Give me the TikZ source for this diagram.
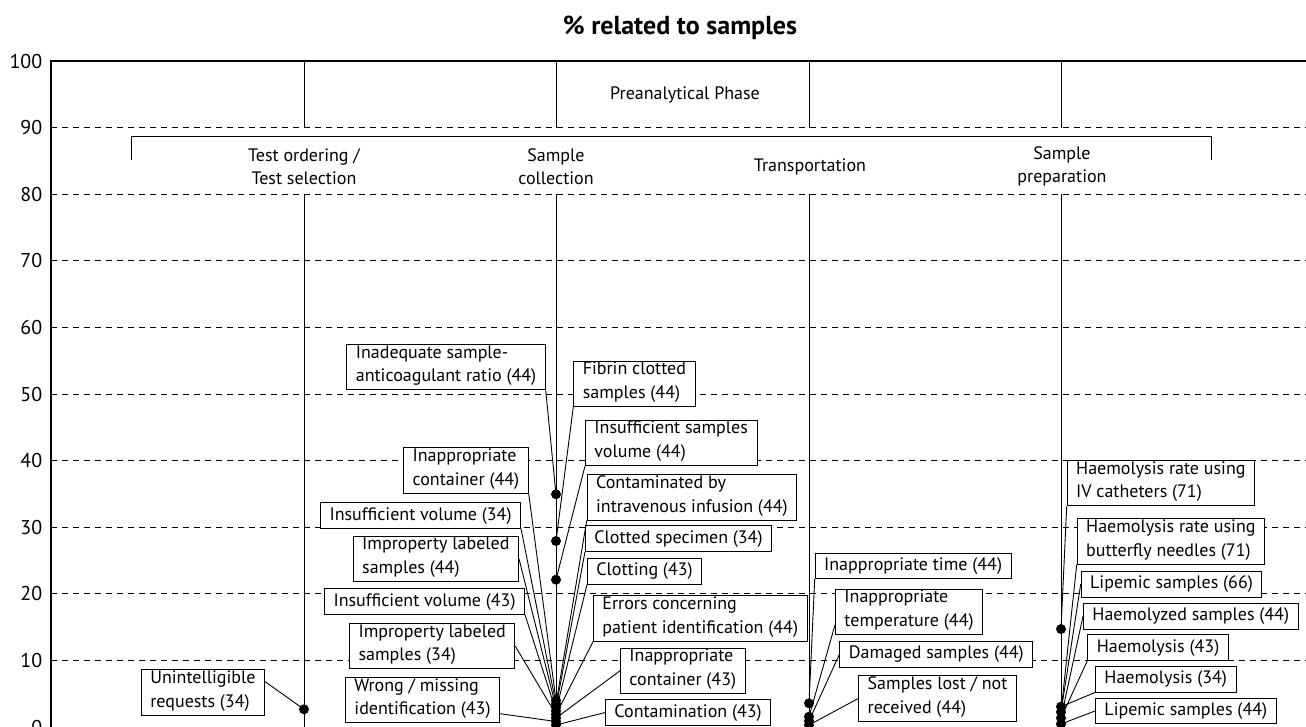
\documentclass[tikz,border=0pt]{standalone}
\usepackage{fontspec}
\setmainfont{PT Sans}
\begin{document}
\begin{tikzpicture}[x=1pt,y=-1pt,line width=0.9pt]
\tikzstyle{lbl}=[draw,fill=white,align=left,inner xsep=9pt,inner ysep=1.1pt,font=\fontsize{18}{23.4}\selectfont,execute at begin node=\strut,execute at end node=\strut]
\tikzstyle{blob}=[circle,fill=black,inner sep=0pt,minimum size=10pt]
\tikzstyle{ylab}=[anchor=east,font=\fontsize{20}{24}\selectfont]
\tikzstyle{phase}=[align=center,font=\fontsize{18}{23}\selectfont]
\tikzstyle{gridline}=[dash pattern=on 6pt off 5pt]

\useasboundingbox (0,0) rectangle (1306,726);

\node[font=\fontsize{26}{30}\selectfont\bfseries](title) at (680,28) {\% related to samples};

% axis
\node[ylab](y100) at (46,61) {100};
\node[ylab](y90) at (46,127.6) {90};
\node[ylab](y80) at (46,194.2) {80};
\node[ylab](y70) at (46,260.8) {70};
\node[ylab](y60) at (46,327.4) {60};
\node[ylab](y50) at (46,394) {50};
\node[ylab](y40) at (46,460.6) {40};
\node[ylab](y30) at (46,527.2) {30};
\node[ylab](y20) at (46,593.8) {20};
\node[ylab](y10) at (46,660.4) {10};
\node[ylab](y0) at (46,727) {0};
\draw[line width=1.3pt] (51,727) -- (51,61) -- (1306,61);
\draw (51,727) -- (1306,727);
\draw[gridline] (51,127.6) -- (1306,127.6);
\draw[gridline] (51,194.2) -- (1306,194.2);
\draw[gridline] (51,260.8) -- (1306,260.8);
\draw[gridline] (51,327.4) -- (1306,327.4);
\draw[gridline] (51,394) -- (1306,394);
\draw[gridline] (51,460.6) -- (1306,460.6);
\draw[gridline] (51,527.2) -- (1306,527.2);
\draw[gridline] (51,593.8) -- (1306,593.8);
\draw[gridline] (51,660.4) -- (1306,660.4);

% phases
\draw (304,61) -- (304,127.6);
\draw (556,61) -- (556,127.6);
\draw (809,61) -- (809,127.6);
\draw (1061,61) -- (1061,127.6);
\draw (304,194.2) -- (304,727);
\draw (556,194.2) -- (556,727);
\draw (809,194.2) -- (809,727);
\draw (1061,194.2) -- (1061,727);
\draw (131,160) -- (131,136) -- (1211,136) -- (1211,160);
\node[phase](ph) at (685,95) {Preanalytical Phase};
\node[phase](s1) at (304,166.5) {Test ordering /\\Test selection};
\node[phase](s2) at (556,166.5) {Sample\\collection};
\node[phase](s3) at (810,166.5) {Transportation};
\node[phase](s4) at (1062,166.5) {Sample\\preparation};

% boxes
\node[lbl,anchor=east](o1) at (265,692.5) {Unintelligible\\requests (34)};

\node[lbl,anchor=east](c1) at (545.7,367.2) {Inadequate sample-\\anticoagulant ratio (44)};
\node[lbl,anchor=east](c2) at (528.7,470.5) {Inappropriate\\container (44)};
\node[lbl,anchor=east](c3) at (521,515.4) {Insufficient volume (34)};
\node[lbl,anchor=east](c4) at (519,558.7) {Improperty labeled\\samples (44)};
\node[lbl,anchor=east](c5) at (525,601.5) {Insufficient volume (43)};
\node[lbl,anchor=east](c6) at (515.3,646.2) {Improperty labeled\\samples (34)};
\node[lbl,anchor=east](c7) at (500,700) {Wrong / missing\\identification (43)};
\node[lbl,anchor=west](c8) at (573.3,383.8) {Fibrin clotted\\samples (44)};
\node[lbl,anchor=west](c9) at (585,442.8) {Insufficient samples\\volume (44)};
\node[lbl,anchor=west](c10) at (586.7,497.5) {Contaminated by\\intravenous infusion (44)};
\node[lbl,anchor=west](c11) at (585,538.5) {Clotted specimen (34)};
\node[lbl,anchor=west](c12) at (587,571.3) {Clotting (43)};
\node[lbl,anchor=west](c13) at (593,618.5) {Errors concerning\\patient identification (44)};
\node[lbl,anchor=west](c14) at (620,670.8) {Inappropriate\\container (43)};
\node[lbl,anchor=west](c15) at (605,712.5) {Contamination (43)};

\node[lbl,anchor=west](t1) at (814.7,565.8) {Inappropriate time (44)};
\node[lbl,anchor=west](t2) at (835,611.8) {Inappropriate\\temperature (44)};
\node[lbl,anchor=west](t3) at (839.4,654.2) {Damaged samples (44)};
\node[lbl,anchor=west](t4) at (858.2,698.5) {Samples lost / not\\received (44)};

\node[lbl,anchor=west](p1) at (1066.7,483.2) {Haemolysis rate using\\IV catheters (71)};
\node[lbl,anchor=west](p2) at (1076.7,541.5) {Haemolysis rate using\\butterfly needles (71)};
\node[lbl,anchor=west](p3) at (1080.7,584.2) {Lipemic samples (66)};
\node[lbl,anchor=west](p4) at (1083,616.2) {Haemolyzed samples (44)};
\node[lbl,anchor=west](p5) at (1087.3,647.5) {Haemolysis (43)};
\node[lbl,anchor=west](p6) at (1095,679.2) {Haemolysis (34)};
\node[lbl,anchor=west](p7) at (1095,711) {Lipemic samples (44)};

% dots
\node[blob](do1) at (304,709.3) {};
\node[blob](dc1) at (556,494.3) {};
\node[blob](dc2) at (556,541) {};
\node[blob](dc3) at (556,579.7) {};
\node[blob](dc4) at (556,700.5) {};
\node[blob](dc5) at (556,704) {};
\node[blob](dc6) at (556,707.5) {};
\node[blob](dc7) at (556,711) {};
\node[blob](dc8) at (556,714.5) {};
\node[blob](dc9) at (556,718) {};
\node[blob](dc10) at (556,721.5) {};
\node[blob](dc11) at (556,725) {};
\node[blob](dt1) at (809,703.3) {};
\node[blob](dt2) at (809,716.7) {};
\node[blob](dt3) at (809,721) {};
\node[blob](dt4) at (809,725) {};
\node[blob](dp1) at (1061,629) {};
\node[blob](dp2) at (1061,706.7) {};
\node[blob](dp3) at (1061,712) {};
\node[blob](dp4) at (1061,718) {};
\node[blob](dp5) at (1061,724) {};

% connectors
\draw (o1.10) -- (do1.center);
\draw (c1.south east) -- (dc1.center);
\draw (c8.south west) -- (dc2.center);
\draw (c9.south west) -- (dc3.center);
\draw (c2.south east) -- (dc4.center);
\draw (c3.south east) -- (dc5.center);
\draw (c4.east) -- (dc6.center);
\draw (c5.south east) -- (dc7.center);
\draw (c6.east) -- (dc8.center);
\draw (c7.-10) -- (dc10.center);
\draw (c10.south west) -- (dc5.center);
\draw (c11.south west) -- (dc6.center);
\draw (c12.south west) -- (dc7.center);
\draw (c13.south west) -- (dc8.center);
\draw (c14.west) -- (dc9.center);
\draw (c15.west) -- (dc11.center);
\draw (t1.south west) -- (dt1.center);
\draw (t2.190) -- (dt2.center);
\draw (t3.west) -- (dt3.center);
\draw (t4.west) -- (dt4.center);
\draw (p1.south west) -- (dp1.center);
\draw (p2.south west) -- (dp3.center);
\draw (p3.west) -- (dp3.center);
\draw (p4.west) -- (dp4.center);
\draw (p5.south west) -- (dp4.center);
\draw (p6.south west) -- (dp2.center);
\draw (p7.west) -- (dp5.center);
\end{tikzpicture}
\end{document}
